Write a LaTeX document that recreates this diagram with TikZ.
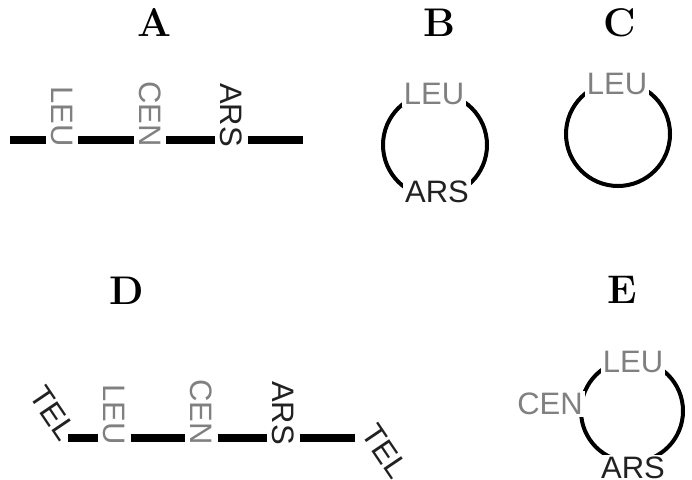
\documentclass[tikz,border=0pt]{standalone}
\usepackage{fontspec}
\newfontfamily\genefont{Liberation Sans}
\usetikzlibrary{positioning, calc}
\definecolor{markgray}{gray}{0.5}
\definecolor{markdark}{gray}{0.13}

\begin{document}
\begin{tikzpicture}[x=1pt, y=1pt,
    panel/.style={font=\fontsize{40}{40}\selectfont\bfseries},
    gene/.style={font=\genefont\fontsize{31}{31}\selectfont, inner sep=5pt},
    genepale/.style={gene, text=markgray},
    genedark/.style={gene, text=markdark},
    vert/.style={rotate=-90, anchor=east},
    slant/.style={rotate=-56},
    onring/.style={fill=white, inner sep=2pt},
    chrom/.style={line width=7.5pt},
    ring/.style={line width=4pt},]

\useasboundingbox (0,0) rectangle (692,-479);

% Panel letters
\node[panel] (pA) at (154,-22) {A};
\node[panel] (pB) at (439,-23) {B};
\node[panel] (pC) at (620,-23) {C};
\node[panel] (pD) at (127,-291) {D};
\node[panel] (pE) at (622,-290) {E};

% Linear plasmid (A)
\coordinate (a0) at (10,-140);
\coordinate (a4) at (303,-140);
\node[genepale, vert] (aleu) at (62,-152) {LEU};
\node[genepale, vert] (acen) at (150,-152) {CEN};
\node[genedark, vert] (aars) at (231.5,-152) {ARS};
\draw[chrom] (a0) -- (a0 -| aleu.south);
\draw[chrom] (aleu.north |- a0) -- (a0 -| acen.south);
\draw[chrom] (acen.north |- a0) -- (a0 -| aars.south);
\draw[chrom] (aars.north |- a0) -- (a4);

% Circle with LEU and ARS (B)
\coordinate (bc) at (435,-145);
\draw[ring] (bc) circle[radius=52];
\node[genepale, onring] (bleu) at (434,-94) {LEU};
\node[genedark, onring] (bars) at (437,-192) {ARS};

% Circle with LEU only (C)
\coordinate (cc) at (618,-134);
\draw[ring] (cc) circle[radius=52];
\node[genepale, onring] (cleu) at (617,-84) {LEU};

% Linear chromosome with telomeres (D)
\coordinate (d0) at (68,-438);
\coordinate (d4) at (355,-438);
\node[genedark, slant, inner sep=1pt] (dtel1) at (53,-413) {TEL};
\node[genepale, vert] (dleu) at (114.5,-450) {LEU};
\node[genepale, vert] (dcen) at (201.5,-450) {CEN};
\node[genedark, vert] (dars) at (283.5,-450) {ARS};
\node[genedark, slant, inner sep=1pt] (dtel2) at (385,-451) {TEL};
\draw[chrom] (d0) -- (d0 -| dleu.south);
\draw[chrom] (dleu.north |- d0) -- (d0 -| dcen.south);
\draw[chrom] (dcen.north |- d0) -- (d0 -| dars.south);
\draw[chrom] (dars.north |- d0) -- (d4);

% Circle with LEU, CEN and ARS (E)
\coordinate (ec) at (632,-411);
\draw[ring] (ec) circle[radius=51];
\node[genepale, onring] (eleu) at (633,-362) {LEU};
\node[genepale, onring] (ecen) at (550,-404) {CEN};
\node[genedark, onring] (ears) at (633,-468) {ARS};

\end{tikzpicture}
\end{document}
